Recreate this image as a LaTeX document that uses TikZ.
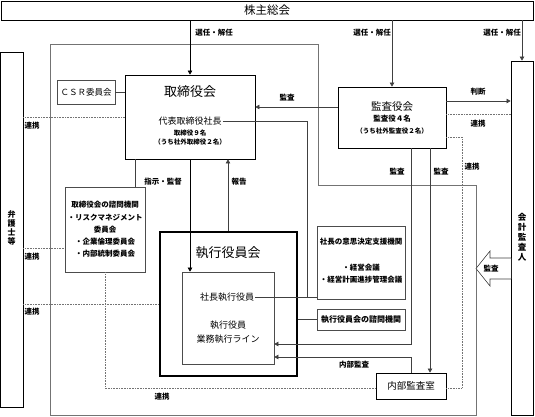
\documentclass[tikz,border=0pt]{standalone}
\usepackage{fontspec}
\setmainfont{Noto Sans CJK JP}
\usetikzlibrary{arrows.meta}
\newcommand{\jfs}[2]{\fontsize{#1}{#2}\selectfont}
\newcommand{\lbl}[4]{\node[lbl] (#1) at (#2,#3) {#4};}

\begin{document}
\begin{tikzpicture}[x=1pt,y=-1pt,
  box/.style={draw=black,line width=0.8pt,inner sep=0pt},
  gbox/.style={draw=black!70,line width=0.7pt,inner sep=0pt},
  txt/.style={inner sep=1pt,align=center},
  lbl/.style={inner sep=1pt,font=\jfs{7.5}{9}\bfseries},
  con/.style={draw=black!75,line width=0.6pt},
  arr/.style={con,-{Triangle[length=4pt,width=4.5pt]}},
  link/.style={draw=black!55,densely dotted,line width=0.6pt}]
\useasboundingbox (0,0) rectangle (535,416);

% company frame
\draw[draw=black!55,line width=0.7pt] (50,44) -- (318,44) -- (318,185) -- (476,185) -- (476,415) -- (50,415) -- cycle;

\node[box,minimum width=532,minimum height=19,font=\jfs{11.5}{12}] (kabu) at (267,10.5) {株主総会};
\node[box,minimum width=22.5,minimum height=355] (bengo) at (11.75,229.5) {};
\node[txt,font=\jfs{8}{8.8}\bfseries] (bengoT) at (11.5,228) {弁\\護\\士\\等};
\node[box,minimum width=22,minimum height=354] (kaikei) at (522,238) {};
\node[txt,font=\jfs{8.5}{10}\bfseries] (kaikeiT) at (522,237) {会\\計\\監\\査\\人};

\node[box,minimum width=130,minimum height=84] (tori) at (190,117) {};
\node[txt,font=\jfs{13}{14}] (toriT) at (190,92) {取締役会};
\node[txt,font=\jfs{9}{10}] (daihyo) at (190,121) {代表取締役社長};
\node[txt,font=\jfs{6.5}{9}\bfseries] (toriN) at (190,137.5) {取締役９名\\（うち社外取締役２名）};

\node[gbox,minimum width=58,minimum height=24,font=\jfs{8.5}{9}] (csr) at (86,92) {ＣＳＲ委員会};

\node[box,minimum width=108,minimum height=61] (kansa) at (392,117.5) {};
\node[txt,font=\jfs{10.5}{11}] (kansaT) at (392,107) {監査役会};
\node[txt,font=\jfs{7.5}{8}\bfseries] (kansaN) at (392,119) {監査役４名};
\node[txt,font=\jfs{6.5}{7}\bfseries] (kansaS) at (392,131) {（うち社外監査役２名）};

\node[gbox,minimum width=80,minimum height=85] (tsimon) at (105,229.5) {};
\node[txt,font=\jfs{7.5}{12.3}\bfseries] (tsimonT) at (105,229.5)
  {取締役会の諮問機関\\・リスクマネジメント\\委員会\\・企業倫理委員会\\・内部統制委員会};

\node[box,line width=1.3pt,minimum width=137,minimum height=144] (shikkou) at (228.5,304) {};
\node[txt,font=\jfs{13}{14}] (shikkouT) at (228,253) {執行役員会};
\node[gbox,minimum width=92,minimum height=92] (shacho) at (228,318) {};
\node[txt,font=\jfs{9}{10}] (shachoyaku) at (227,297) {社長執行役員};
\node[txt,font=\jfs{9}{14}] (gyomu) at (228,332) {執行役員\\業務執行ライン};

\node[gbox,minimum width=88,minimum height=73] (shien) at (361,262.5) {};
\node[txt,font=\jfs{7.5}{12.7}\bfseries] (shienT) at (361,261)
  {社長の意思決定支援機関\\ \\・経営会議\\・経営計画進捗管理会議};
\node[gbox,minimum width=88,minimum height=21,font=\jfs{8}{9}\bfseries] (ssimon) at (361,319.5) {執行役員会の諮問機関};
\node[box,minimum width=70,minimum height=26,font=\jfs{9.5}{10}] (naibu) at (411,386) {内部監査室};

% levels
\coordinate (yK) at (0,107);
\coordinate (yH) at (0,101);
\coordinate (yR) at (0,114);
\coordinate (yV) at (0,137);
\coordinate (xV) at (462,0);
\coordinate (yD) at (0,388);
\coordinate (xA) at (411,0);
\coordinate (xB) at (430,0);
\coordinate (yA) at (0,344);
\coordinate (yN) at (0,357);
\coordinate (xS) at (135,0);
\coordinate (xR) at (228,0);
\coordinate (xJ) at (307,0);
\coordinate (yL1) at (0,117);
\coordinate (yL2) at (0,248);
\coordinate (yL3) at (0,304);

\draw[arr,draw=black] (kabu.south -| tori.north) -- (tori.north);
\draw[arr] (kabu.south -| kansa.north) -- (kansa.north);
\draw[arr] (kabu.south -| kaikei.north) -- (kaikei.north);
\draw[con] (csr.east) -- (csr.east -| tori.west);
\draw[arr] (kansa.west |- yK) -- (tori.east |- yK);
\draw[con] (daihyo.east) -| (shachoyaku.east -| xJ);
\draw[con] (shachoyaku.east) -- (shien.west |- shachoyaku.east);
\draw[arr] (kansa.east |- yH) -- (kaikei.west |- yH);
\draw[link] (kansa.east |- yR) -- (kaikei.west |- yR);
\draw[link] (kansa.east |- yV) -| (xV |- yD) -- (naibu.east |- yD);
\draw[link] (naibu.west |- yD) -| (tsimon.south);
\draw[arr] (kansa.south -| xA) |- (shacho.east |- yA);
\draw[arr] (kansa.south -| xB) -- (naibu.north -| xB);
\draw[arr] (naibu.north) |- (shacho.east |- yN);
\draw[con] (tori.south -| xS) -- (tsimon.north -| xS);
\draw[arr,draw=black] (tori.south) -- (shacho.north -| tori.south);
\draw[arr] (shikkou.north -| xR) -- (tori.south -| xR);
\draw[link] (bengo.east |- yL1) -- (tori.west |- yL1);
\draw[link] (bengo.east |- yL2) -- (tsimon.west |- yL2);
\draw[link] (bengo.east |- yL3) -- (shikkou.west |- yL3);
\draw[con] (shikkou.east |- ssimon.west) -- (ssimon.west);
\draw[con,fill=white] (511,258) -- (490,258) -- (490,251) -- (476,268.5) -- (490,286) -- (490,279) -- (511,279);

\lbl{sen1}{214}{33}{選任・解任}
\lbl{sen2}{372}{33}{選任・解任}
\lbl{sen3}{502}{33}{選任・解任}
\lbl{kansaL}{287}{98}{監査}
\lbl{handan}{478}{92}{判断}
\lbl{renR}{478}{124}{連携}
\lbl{renV}{472}{167}{連携}
\lbl{kansaA}{397}{172}{監査}
\lbl{kansaB}{441}{172}{監査}
\lbl{shiji}{163}{182}{指示・監督}
\lbl{houkoku}{239}{182}{報告}
\lbl{renL1}{32}{126}{連携}
\lbl{renL2}{32}{257}{連携}
\lbl{renL3}{32}{312}{連携}
\lbl{renB}{162}{397}{連携}
\lbl{naibuL}{354}{365}{内部監査}
\lbl{kansaK}{491}{269}{監査}
\end{tikzpicture}
\end{document}
